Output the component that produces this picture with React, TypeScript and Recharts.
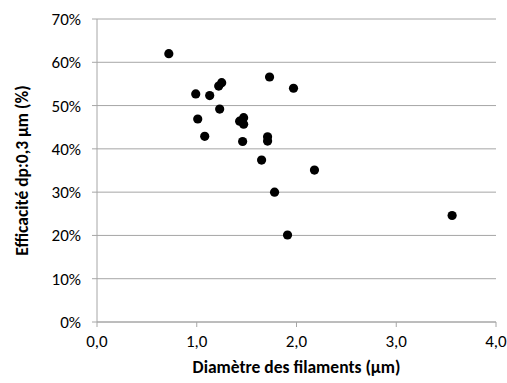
import { ScatterChart, Scatter, XAxis, YAxis, CartesianGrid, Label } from 'recharts';

const diametre = [0.72, 0.99, 1.01, 1.08, 1.13, 1.22, 1.25, 1.23, 1.43, 1.47, 1.47, 1.46, 1.65, 1.71, 1.71, 1.73, 1.78, 1.91, 1.97, 2.18, 3.56];
const efficacite = [62.0, 52.7, 46.9, 42.9, 52.3, 54.5, 55.3, 49.2, 46.4, 47.2, 45.7, 41.7, 37.4, 42.8, 41.8, 56.6, 30.0, 20.1, 54.0, 35.1, 24.6];
const xTicks = [0, 1, 2, 3, 4];
const yTicks = [0, 10, 20, 30, 40, 50, 60, 70];

const data = diametre.map((d, i) => ({ d, e: efficacite[i] }));

const FONT = 'Carlito, Lato, "Open Sans", sans-serif';
const GREY = '#a6a6a6';

const Dot = (props: any) => <circle cx={props.cx} cy={props.cy} r={4.6} fill="#000" />;

const YTitle = ({ viewBox }: any) => {
  const x = viewBox.x - 15;
  const y = viewBox.y + viewBox.height / 2;
  return (
    <text x={x} y={y} transform={`rotate(-90 ${x} ${y})`} textAnchor="middle" dominantBaseline="central"
      fontFamily={FONT} fontSize={17.5} fontWeight="bold" fill="#000">
      Efficacité dp:0,3 µm (%)
    </text>
  );
};

const XTitle = ({ viewBox }: any) => (
  <text x={viewBox.x + viewBox.width / 2} y={viewBox.y + 45} textAnchor="middle" dominantBaseline="central"
    fontFamily={FONT} fontSize={17.5} fontWeight="bold" fill="#000">
    Diamètre des filaments (µm)
  </text>
);

export default function App() {
  return (
    <div style={{ position: 'absolute', left: 0, top: 0, width: 507, height: 383, background: '#fff' }}>
      <ScatterChart width={507} height={383} margin={{ top: 19, right: 11, bottom: 11, left: 37 }}>
        <CartesianGrid vertical={false} stroke={GREY} />
        <XAxis
          type="number"
          dataKey="d"
          domain={[0, 4]}
          ticks={xTicks}
          height={50}
          stroke={GREY}
          tickSize={5}
          tickMargin={8}
          tick={{ fill: '#000', fontSize: 17, fontFamily: FONT }}
          tickFormatter={(v) => v.toFixed(1).replace('.', ',')}
        >
          <Label content={<XTitle />} />
        </XAxis>
        <YAxis
          type="number"
          dataKey="e"
          domain={[0, 70]}
          ticks={yTicks}
          width={60}
          stroke={GREY}
          tickSize={5}
          tickMargin={11}
          tick={{ fill: '#000', fontSize: 17, fontFamily: FONT }}
          tickFormatter={(v) => `${v}%`}
        >
          <Label content={<YTitle />} />
        </YAxis>
        <Scatter data={data} fill="#000" shape={<Dot />} isAnimationActive={false} />
      </ScatterChart>
    </div>
  );
}
